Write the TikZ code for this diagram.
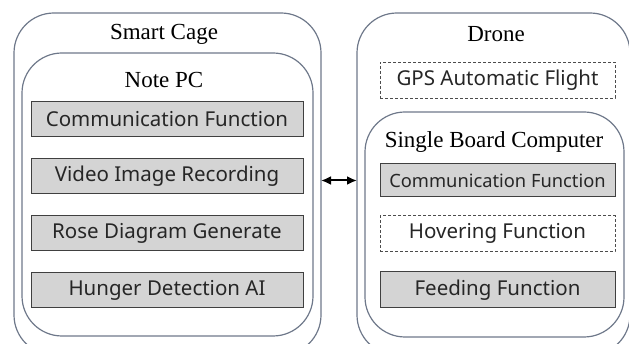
\documentclass[tikz,border=0pt]{standalone}
\usepackage{fontspec}
\setmainfont{Liberation Serif}
\newfontfamily\boxfont{Noto Sans}
\usetikzlibrary{shapes,arrows.meta,positioning}
\definecolor{framegray}{RGB}{110,120,138}
\definecolor{boxgray}{RGB}{212,212,212}
\definecolor{textgray}{RGB}{38,38,38}

\tikzset{
    frame/.style={draw=framegray, line width=1.2pt, rounded corners=40pt,
        inner sep=0, outer sep=0},
    funcbox/.style={draw=black!75, fill=boxgray, line width=1pt,
        minimum width=272pt, minimum height=35pt, inner sep=0,
        text=textgray, font=\boxfont\fontsize{20.5}{24}\selectfont},
    dashbox/.style={funcbox, fill=none, draw=black!70, line width=0.8pt,
        dash pattern=on 3pt off 2pt}
}

\begin{document}
\begin{tikzpicture}[x=1pt,y=1pt,font=\fontsize{23}{26}\selectfont]

\clip (0,0) rectangle (629,-344);

% Frames
\node[frame, minimum width=307pt, minimum height=342pt] (cage) at (167.5,-184) {};
\node[frame, minimum width=291pt, minimum height=283pt] (notepc) at (167.5,-194.5) {};
\node[frame, minimum width=273pt, minimum height=342pt] (drone) at (493.5,-184) {};
\node[frame, minimum width=259pt, minimum height=225pt] (sbc) at (494.5,-224.5) {};

% Titles
\node (cagetitle) at (164,-34) {Smart Cage};
\node (pctitle) at (164,-80) {Note PC};
\node (dronetitle) at (496,-34) {Drone};
\node (sbctitle) at (494,-142) {Single Board Computer};

% Note PC functions
\node[funcbox] (comm1) at (167,-119.5) {Communication Function};
\node[funcbox, below=21pt of comm1] (video) {Video Image Recording};
\node[funcbox, below=21pt of video] (rose) {Rose Diagram Generate};
\node[funcbox, below=21pt of rose] (hunger) {Hunger Detection AI};

% Drone functions
\node[dashbox, minimum width=235pt, minimum height=36pt] (gps) at (497.5,-80) {GPS Automatic Flight};
\node[funcbox, minimum width=235pt, minimum height=33pt,
    font=\boxfont\fontsize{18.3}{22}\selectfont] (comm2) at (497.5,-180.5) {Communication Function};
\node[dashbox, minimum width=235pt, minimum height=36pt,
    below=18pt of comm2] (hover) {Hovering Function};
\node[funcbox, minimum width=235pt, minimum height=36pt,
    below=19pt of hover] (feed) {Feeding Function};

% Link
\draw[{Latex[length=10pt,width=9pt]}-{Latex[length=10pt,width=9pt]}, line width=2pt]
    (cage.east |- comm2) -- (drone.west |- comm2);

\end{tikzpicture}
\end{document}
